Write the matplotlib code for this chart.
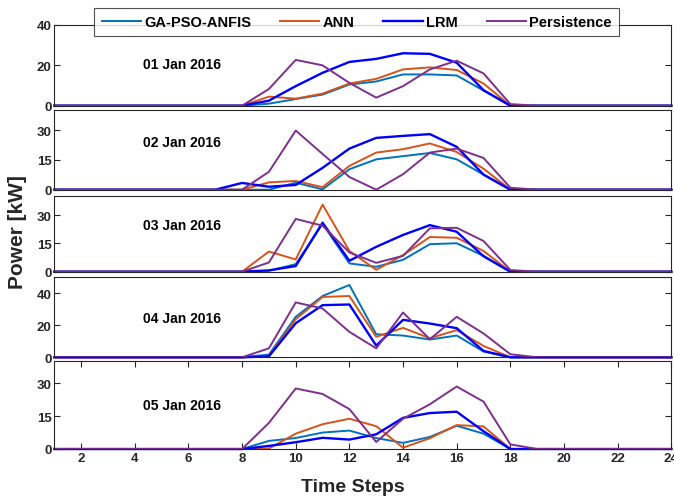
import matplotlib
matplotlib.use("Agg")
import matplotlib.pyplot as plt

x = list(range(1, 25))
days = ["01 Jan 2016", "02 Jan 2016", "03 Jan 2016", "04 Jan 2016", "05 Jan 2016"]

def pad(vals, start=8):
    # vals for hours start..start+len-1, zeros elsewhere
    out = [0.0] * 24
    for i, v in enumerate(vals):
        out[start - 1 + i] = v
    return out

ga = [
    pad([0, 1, 3.3, 5.5, 10.5, 12, 15.5, 15.5, 15, 7.5, 0]),
    pad([0, 0, 3.5, 0.2, 10.3, 15.3, 16.9, 18.5, 15.3, 7.6, 0]),
    pad([0, 0.5, 4, 25.4, 4.4, 2.6, 6.3, 14.6, 15.1, 8.4, 0]),
    pad([0, 1.7, 25.3, 38.3, 45.2, 14.4, 13.6, 11.1, 13.6, 3.6, 0]),
    pad([0, 3.7, 5, 7.5, 8.4, 5, 2.8, 5.5, 10.6, 7, 0]),
]
ann = [
    pad([0, 4.5, 3.5, 6, 11, 13.3, 18, 19, 17.7, 11, 0]),
    pad([0, 3.7, 4.4, 1.3, 12, 18.7, 20.4, 23.3, 19, 10.6, 0]),
    pad([0, 10.7, 6.5, 35.6, 11, 1, 8.8, 18.4, 18, 11, 0]),
    pad([0, 0.8, 23.8, 37.7, 38.3, 12.8, 18.4, 11.9, 17, 7.1, 0]),
    pad([0, 0.2, 7, 11.3, 13.8, 10.4, 0.6, 4.9, 10.9, 10.3, 0]),
]
lrm = [
    pad([0, 2.5, 9.7, 16.3, 21.7, 23.2, 26, 25.7, 21.3, 7.7, 0]),
    pad([3.4, 1.5, 2.4, 11, 20.7, 26.1, 27.1, 28, 21.6, 7.6, 0]),
    pad([0, 0.7, 3, 26, 5.8, 13.2, 19.5, 24.7, 21.2, 8.2, 0]),
    pad([0, 0.6, 21.3, 32.6, 33, 7.3, 23.4, 21.1, 18.2, 4, 0]),
    pad([0, 1.4, 3.1, 5.1, 4.3, 6.7, 14.2, 16.4, 17, 8.1, 0]),
]
persistence = [
    pad([0, 8.3, 22.7, 20, 11.3, 4, 9.7, 18, 22.3, 16, 0.8, 0]),
    pad([0, 9, 29.8, 18, 6.4, 0, 7.8, 18.7, 20.7, 16, 1, 0]),
    pad([0, 4.9, 28, 24.4, 10.2, 4.7, 8.4, 23, 23.3, 16.3, 0.9, 0]),
    pad([0, 5.6, 34.3, 30.5, 15.9, 5.6, 28, 11.3, 25.3, 14.9, 1.9, 0]),
    pad([0, 11.9, 27.6, 25.1, 18.2, 3.2, 13.8, 20.4, 28.5, 21.6, 2.1, 0]),
]
ylims = [40, 40, 40, 50, 40]
yticks = [[0, 20, 40], [0, 15, 30], [0, 15, 30], [0, 20, 40], [0, 15, 30]]
xticks = [2, 4, 6, 8, 10, 12, 14, 16, 18, 20, 22, 24]

series_names = ["GA-PSO-ANFIS", "ANN", "LRM", "Persistence"]
colors = ["#0072BD", "#D95319", "#0000FF", "#7E2F8E"]
lws = [1.4, 1.4, 1.7, 1.4]

FAM = ["Liberation Sans", "DejaVu Sans"]
plt.rcParams["font.family"] = FAM
plt.rcParams["font.weight"] = "bold"

W, H = 674, 502
fig = plt.figure(figsize=(W / 100, H / 100), dpi=100)

panels = [(26, 106.7), (111.3, 190.7), (197.3, 272.7), (278.3, 358.3), (362.3, 450)]
left, right = 54.3, 671.3
label_y = [0.52, 0.60, 0.62, 0.49, 0.50]

axes = []
for i, (top, bot) in enumerate(panels):
    ax = fig.add_axes([left / W, 1 - bot / H, (right - left) / W, (bot - top) / H])
    data = [ga[i], ann[i], lrm[i], persistence[i]]
    for d, c, lw, nm in zip(data, colors, lws, series_names):
        ax.plot(x, d, color=c, lw=lw, label=nm, clip_on=False)
    ax.set_xlim(1, 24)
    ax.set_ylim(0, ylims[i])
    ax.set_yticks(yticks[i])
    ax.tick_params(axis="both", direction="in", length=4, width=0.8, colors="#262626",
                   labelsize=9.5, right=True, top=(i == 4), pad=2)
    if i == 4:
        ax.set_xticks(xticks)
        ax.set_xticklabels([str(t) for t in xticks])
    else:
        ax.set_xticks([])
    for sp in ax.spines.values():
        sp.set_color("#262626")
        sp.set_linewidth(0.8)
    ax.text(0.207, label_y[i], days[i], transform=ax.transAxes, ha="center", va="center",
            fontsize=10, fontweight="bold", color="black")
    axes.append(ax)

fig.text(18 / W, 1 - 232 / H, "Power [kW]", rotation=90, ha="center", va="center",
         fontsize=15, fontweight="bold", color="#262626")
fig.text(353 / W, 1 - 488 / H, "Time Steps", ha="center", va="center",
         fontsize=14, fontweight="bold", color="#262626")

handles, labels = axes[0].get_legend_handles_labels()
leg = fig.legend(handles, labels, loc="center", bbox_to_anchor=(356.5 / W, 1 - 23 / H),
                 ncol=4, frameon=True, fancybox=False, handlelength=2.7, columnspacing=2.0,
                 handletextpad=0.2, borderpad=0.5, borderaxespad=0,
                 prop={"size": 10.5, "weight": "bold"})
leg.get_frame().set_edgecolor("#262626")
leg.get_frame().set_linewidth(0.8)
leg.set_zorder(10)

fig.savefig("out.png", dpi=100)
